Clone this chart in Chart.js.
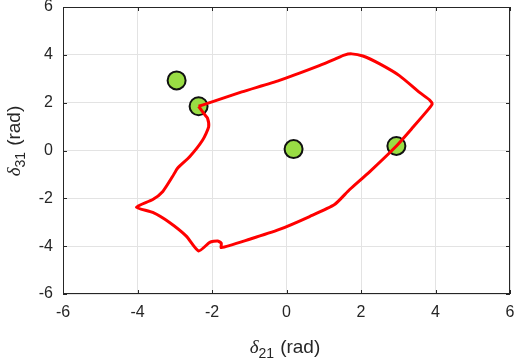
<!DOCTYPE html>
<html>
<head>
<meta charset="utf-8">
<script src="https://cdn.jsdelivr.net/npm/chart.js@4"></script>
<style>
  html, body { margin: 0; padding: 0; background: #fff; }
  #wrap { width: 515px; height: 359px; }
</style>
</head>
<body>
<div id="wrap"><canvas id="chart" width="515" height="359"></canvas></div>
<script>
// closed red curve
const curveX = [-2.36, -2.12, -1.20, -0.19, 0.88, 1.30, 1.55, 1.75, 2.05, 2.49, 3.03, 3.57, 3.85, 3.91, 3.83,
    3.40, 2.95, 2.23, 1.69, 1.29, 0.62, -0.19, -0.99, -1.75, -1.75, -1.85, -2.06, -2.36,
    -2.69, -3.14, -3.59, -4.03, -3.59, -3.32, -3.06, -2.92, -2.60, -2.25, -2.09, -2.12, -2.20, -2.36];
const curveY = [1.85, 1.97, 2.45, 2.93, 3.55, 3.82, 3.99, 4.04, 3.95, 3.63, 3.13, 2.43, 2.10, 1.95, 1.76,
    0.98, 0.19, -0.89, -1.64, -2.26, -2.76, -3.30, -3.71, -4.06, -3.88, -3.78, -3.84, -4.20,
    -3.58, -3.01, -2.59, -2.37, -2.05, -1.71, -1.09, -0.73, -0.26, 0.44, 0.99, 1.35, 1.51, 1.85];

// green markers
const pointX = [-2.95, -2.36, 0.19, 2.95];
const pointY = [2.93, 1.85, 0.06, 0.19];

const axisMin = -6;
const axisMax = 6;
const tickStep = 2;

// [text, font, baseline shift, gap after]
const FONT = '"Liberation Sans", Arial, Helvetica, sans-serif';
const DELTA_FONT = 'italic 19px "Liberation Serif", "DejaVu Serif", serif';
const xTitle = [['δ', DELTA_FONT, 0, 0], ['21', '14px ' + FONT, 5, 6], ['(rad)', '19px ' + FONT, 0, 0]];
const yTitle = [['δ', DELTA_FONT, 0, 0], ['31', '14px ' + FONT, 5, 6], ['(rad)', '19px ' + FONT, 0, 0]];

const INK = '#262626';

function drawTitle(ctx, cx, cy, angle, parts) {
    ctx.save();
    ctx.translate(cx, cy);
    ctx.rotate(angle);
    ctx.fillStyle = INK;
    ctx.textBaseline = 'alphabetic';
    ctx.textAlign = 'left';
    let total = 0;
    parts.forEach(p => {
        ctx.font = p[1];
        total += ctx.measureText(p[0]).width + p[3];
    });
    let x = -total / 2;
    parts.forEach(p => {
        ctx.font = p[1];
        ctx.fillText(p[0], x, p[2]);
        x += ctx.measureText(p[0]).width + p[3];
    });
    ctx.restore();
}

const boxPlugin = {
    id: 'box',
    afterDatasetsDraw(chart) {
        const ctx = chart.ctx;
        const a = chart.chartArea;
        const xs = chart.scales.x;
        const ys = chart.scales.y;
        ctx.save();
        ctx.strokeStyle = INK;
        ctx.lineWidth = 1;
        ctx.strokeRect(Math.round(a.left) + 0.5, Math.round(a.top) + 0.5,
            Math.round(a.right - a.left) - 1, Math.round(a.bottom - a.top) - 1);
        // inward ticks like the original
        ctx.beginPath();
        for (let v = axisMin; v <= axisMax; v += tickStep) {
            const px = Math.round(xs.getPixelForValue(v)) + 0.5;
            ctx.moveTo(px, a.bottom); ctx.lineTo(px, a.bottom - 4);
            ctx.moveTo(px, a.top); ctx.lineTo(px, a.top + 4);
            const py = Math.round(ys.getPixelForValue(v)) + 0.5;
            ctx.moveTo(a.left, py); ctx.lineTo(a.left + 4, py);
            ctx.moveTo(a.right, py); ctx.lineTo(a.right - 4, py);
        }
        ctx.stroke();
        ctx.restore();
    },
    afterDraw(chart) {
        const ctx = chart.ctx;
        drawTitle(ctx, 285, 353, 0, xTitle);
        drawTitle(ctx, 20, 141, -Math.PI / 2, yTitle);
    }
};

const curveData = curveX.map((x, i) => ({ x: x, y: curveY[i] }));
const pointData = pointX.map((x, i) => ({ x: x, y: pointY[i] }));

new Chart(document.getElementById('chart').getContext('2d'), {
    type: 'scatter',
    data: {
        datasets: [
            {
                label: 'curve',
                data: curveData,
                showLine: true,
                borderColor: '#ff0000',
                borderWidth: 3,
                pointRadius: 0,
                tension: 0.2,
                borderJoinStyle: 'round',
                fill: false
            },
            {
                label: 'points',
                data: pointData,
                showLine: false,
                pointRadius: 9,
                pointBackgroundColor: '#99dd44',
                pointBorderColor: '#111111',
                pointBorderWidth: 2
            }
        ]
    },
    options: {
        responsive: false,
        animation: false,
        devicePixelRatio: 1,
        layout: { autoPadding: false, padding: { top: 7, right: 5, left: 0, bottom: 0 } },
        plugins: {
            legend: { display: false },
            tooltip: { enabled: false }
        },
        scales: {
            x: {
                type: 'linear',
                min: axisMin,
                max: axisMax,
                afterFit(scale) {
                    scale.height = 65;
                    scale.paddingLeft = 0;
                    scale.paddingRight = 0;
                },
                ticks: {
                    stepSize: tickStep,
                    padding: 9,
                    color: INK,
                    font: { family: FONT, size: 16 },
                    maxRotation: 0
                },
                grid: { color: '#e3e3e3', drawTicks: false },
                border: { display: false }
            },
            y: {
                type: 'linear',
                min: axisMin,
                max: axisMax,
                afterFit(scale) {
                    scale.width = 63;
                    scale.paddingTop = 0;
                    scale.paddingBottom = 0;
                },
                ticks: {
                    stepSize: tickStep,
                    padding: 10,
                    color: INK,
                    font: { family: FONT, size: 16 }
                },
                grid: { color: '#e3e3e3', drawTicks: false },
                border: { display: false }
            }
        }
    },
    plugins: [boxPlugin]
});
</script>
</body>
</html>
